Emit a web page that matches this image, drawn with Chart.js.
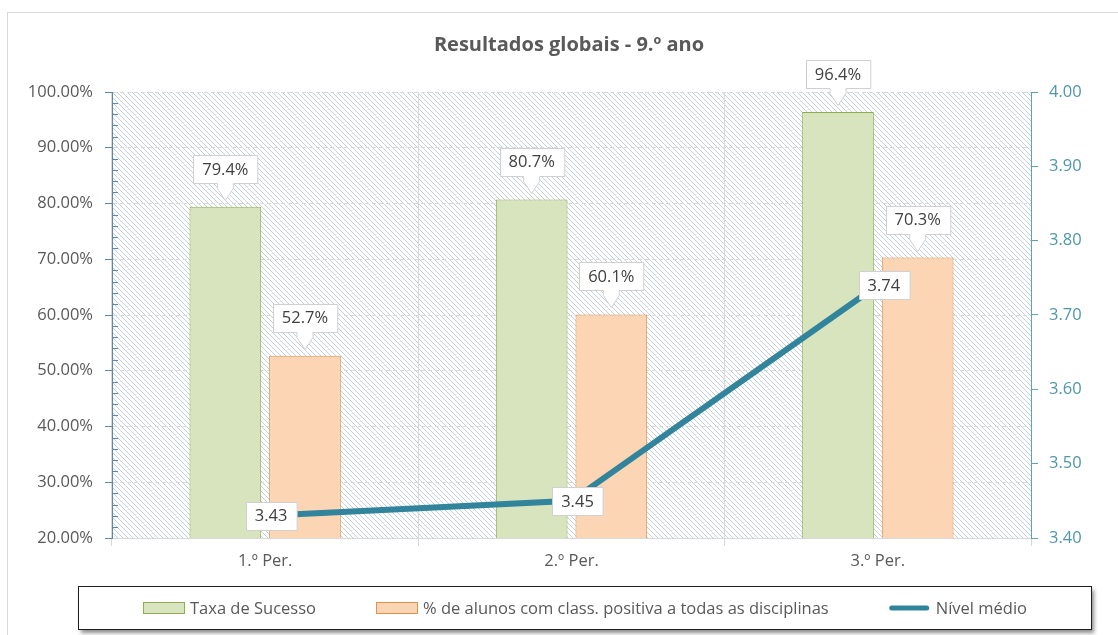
<!DOCTYPE html>
<html>
<head>
<meta charset="utf-8">
<script src="https://cdn.jsdelivr.net/npm/chart.js@4/dist/chart.umd.min.js"></script>
<style>
  html, body { margin: 0; padding: 0; background: #fff; }
  #wrap { width: 1118px; height: 635px; }
</style>
</head>
<body>
<div id="wrap"><canvas id="chart" width="1118" height="635"></canvas></div>
<script>
  // data
  const chartTitle = 'Resultados globais - 9.º ano';
  const periods = ['1.º Per.', '2.º Per.', '3.º Per.'];
  const taxaSucesso = [79.4, 80.7, 96.4];
  const positivaTodas = [52.7, 60.1, 70.3];
  const nivelMedio = [3.43, 3.45, 3.74];
  const seriesLabels = ['Taxa de Sucesso', '% de alunos com class. positiva a todas as disciplinas', 'Nível médio'];
  const leftRange = [20, 100, 10];   // min, max, step
  const rightRange = [3.4, 4.0, 0.1];

  const FONT = '"Open Sans", "Liberation Sans", sans-serif';
  const FS = 16.5;
  const GREEN = '#d7e4bd', GREEN_LINE = '#8fae4f';
  const ORANGE = '#fcd5b5', ORANGE_LINE = '#e0914a';
  const TEAL = '#31849b';
  const LEFT_AXIS = '#5b88b0', RIGHT_AXIS = '#5fa2b3';
  const GRID = '#d9d9d9';

  function makeHatch() {
    const s = 5;
    const c = document.createElement('canvas');
    c.width = s; c.height = s;
    const g = c.getContext('2d');
    g.fillStyle = '#ffffff';
    g.fillRect(0, 0, s, s);
    g.strokeStyle = '#c3d1df';
    g.lineWidth = 1;
    g.beginPath();
    g.moveTo(-1, -1); g.lineTo(s + 1, s + 1);
    g.moveTo(-1, s - 1); g.lineTo(1, s + 1);
    g.moveTo(s - 1, -1); g.lineTo(s + 1, 1);
    g.stroke();
    return c;
  }

  const backdrop = {
    id: 'backdrop',
    beforeDraw(chart) {
      const ctx = chart.ctx, a = chart.chartArea;
      ctx.save();
      ctx.fillStyle = '#fff';
      ctx.fillRect(0, 0, chart.width, chart.height);
      ctx.strokeStyle = GRID;
      ctx.lineWidth = 1;
      ctx.strokeRect(7.5, 12.5, chart.width + 20, chart.height + 20);
      ctx.fillStyle = ctx.createPattern(makeHatch(), 'repeat');
      ctx.fillRect(a.left, a.top, a.right - a.left, a.bottom - a.top);
      ctx.fillStyle = '#595959';
      ctx.font = 'bold 20px ' + FONT;
      ctx.textAlign = 'center';
      ctx.textBaseline = 'middle';
      ctx.fillText(chartTitle, 569, 45);
      ctx.restore();
    }
  };

  function labelBox(ctx, cx, cy, text, pointer) {
    ctx.font = FS + 'px ' + FONT;
    const w = ctx.measureText(text).width + 18, h = 28;
    const l = Math.round(cx - w / 2) + 0.5, t = Math.round(cy - h / 2) + 0.5;
    const r = l + w, b = t + h;
    ctx.beginPath();
    ctx.moveTo(l, t); ctx.lineTo(r, t); ctx.lineTo(r, b);
    if (pointer) {
      ctx.lineTo(cx + 8, b); ctx.lineTo(cx + 8, b + 5);
      ctx.lineTo(cx, b + 17);
      ctx.lineTo(cx - 8, b + 5); ctx.lineTo(cx - 8, b);
    }
    ctx.lineTo(l, b); ctx.closePath();
    ctx.fillStyle = '#fff';
    ctx.fill();
    ctx.strokeStyle = '#d0d0d0';
    ctx.lineWidth = 1;
    ctx.stroke();
    ctx.fillStyle = '#404040';
    ctx.textAlign = 'center';
    ctx.textBaseline = 'middle';
    ctx.fillText(text, cx, cy + 1);
  }

  const dataLabels = {
    id: 'dataLabels',
    afterDatasetsDraw(chart) {
      const ctx = chart.ctx;
      ctx.save();
      chart.data.datasets.forEach((ds, i) => {
        const meta = chart.getDatasetMeta(i);
        meta.data.forEach((el, j) => {
          if (ds.type === 'line') {
            labelBox(ctx, el.x + 6, el.y, ds.data[j].toFixed(2), false);
          } else {
            // callout: tip 7px above bar, box bottom 17px above tip
            labelBox(ctx, el.x, el.y - 7 - 17 - 14, ds.data[j].toFixed(1) + '%', true);
          }
        });
      });
      ctx.restore();
    }
  };

  const extras = {
    id: 'extras',
    afterDraw(chart) {
      const ctx = chart.ctx;
      const ys = chart.scales.y;
      ctx.save();
      // minor ticks on the left axis, inside the plot
      ctx.strokeStyle = LEFT_AXIS;
      ctx.lineWidth = 1;
      ctx.beginPath();
      for (let v = leftRange[0] + 2; v < leftRange[1]; v += 2) {
        if (v % leftRange[2] === 0) continue;
        const y = Math.round(ys.getPixelForValue(v)) + 0.5;
        ctx.moveTo(ys.right, y); ctx.lineTo(ys.right + 6, y);
      }
      ctx.stroke();

      // legend box
      const bx = 78.5, by = 586.5, bw = 1013, bh = 43;
      ctx.save();
      ctx.shadowColor = 'rgba(0,0,0,0.45)';
      ctx.shadowBlur = 4;
      ctx.shadowOffsetX = 2;
      ctx.shadowOffsetY = 3;
      ctx.fillStyle = '#fff';
      ctx.fillRect(bx, by, bw, bh);
      ctx.restore();
      ctx.strokeStyle = '#1e1e1e';
      ctx.strokeRect(bx, by, bw, bh);

      ctx.font = FS + 'px ' + FONT;
      const swW = 41, swGap = 6, itemGap = 60;
      const items = chart.data.datasets.map(ds => ({ ds, tw: ctx.measureText(ds.label).width }));
      const total = items.reduce((s, it) => s + swW + swGap + it.tw, 0) + itemGap * (items.length - 1);
      let x = bx + (bw - total) / 2;
      const cy = by + bh / 2;
      items.forEach(({ ds, tw }) => {
        if (ds.type === 'line') {
          ctx.strokeStyle = ds.borderColor;
          ctx.lineWidth = 5;
          ctx.lineCap = 'round';
          ctx.beginPath();
          ctx.moveTo(x + 3, cy); ctx.lineTo(x + swW - 3, cy);
          ctx.stroke();
          ctx.lineCap = 'butt';
          ctx.lineWidth = 1;
        } else {
          ctx.fillStyle = ds.backgroundColor;
          ctx.fillRect(Math.round(x) + 0.5, cy - 5.5, swW, 11);
          ctx.strokeStyle = ds.borderColor;
          ctx.strokeRect(Math.round(x) + 0.5, cy - 5.5, swW, 11);
        }
        ctx.fillStyle = '#595959';
        ctx.textAlign = 'left';
        ctx.textBaseline = 'middle';
        ctx.fillText(ds.label, x + swW + swGap, cy + 1);
        x += swW + swGap + tw + itemGap;
      });
      ctx.restore();
    }
  };

  new Chart(document.getElementById('chart'), {
    data: {
      labels: periods,
      datasets: [
        {
          type: 'bar', label: seriesLabels[0], data: taxaSucesso, yAxisID: 'y', order: 1,
          backgroundColor: GREEN, borderColor: GREEN_LINE, borderWidth: 1,
          barPercentage: 0.9, categoryPercentage: 0.52
        },
        {
          type: 'bar', label: seriesLabels[1], data: positivaTodas, yAxisID: 'y', order: 1,
          backgroundColor: ORANGE, borderColor: ORANGE_LINE, borderWidth: 1,
          barPercentage: 0.9, categoryPercentage: 0.52
        },
        {
          type: 'line', label: seriesLabels[2], data: nivelMedio, yAxisID: 'y1', order: 0,
          borderColor: TEAL, backgroundColor: TEAL, borderWidth: 6,
          pointRadius: 0, tension: 0, fill: false
        }
      ]
    },
    options: {
      responsive: false,
      animation: false,
      devicePixelRatio: 1,
      layout: { padding: { top: 92, left: 0, right: 0, bottom: 0 } },
      plugins: { legend: { display: false }, title: { display: false }, tooltip: { enabled: false } },
      scales: {
        x: {
          offset: true,
          grid: { offset: true, color: GRID, tickLength: 8 },
          border: { color: GRID },
          ticks: { color: '#595959', font: { family: FONT, size: FS }, padding: 5 },
          afterFit(s) { s.height = 97; }
        },
        y: {
          position: 'left',
          min: leftRange[0], max: leftRange[1],
          grid: { color: GRID, tickColor: LEFT_AXIS, tickLength: 7 },
          border: { color: LEFT_AXIS, dash: [4, 3] },
          ticks: {
            stepSize: leftRange[2], color: '#595959', padding: 12,
            font: { family: FONT, size: FS },
            callback: v => v.toFixed(2) + '%'
          },
          afterFit(s) { s.width = 112; }
        },
        y1: {
          position: 'right',
          min: rightRange[0], max: rightRange[1],
          grid: { drawOnChartArea: false, tickColor: RIGHT_AXIS, tickLength: 7 },
          border: { color: RIGHT_AXIS },
          ticks: {
            stepSize: rightRange[2], color: '#4f97aa', padding: 11,
            font: { family: FONT, size: FS },
            callback: v => v.toFixed(2)
          },
          afterFit(s) { s.width = 87; }
        }
      }
    },
    plugins: [backdrop, dataLabels, extras]
  });
</script>
</body>
</html>
